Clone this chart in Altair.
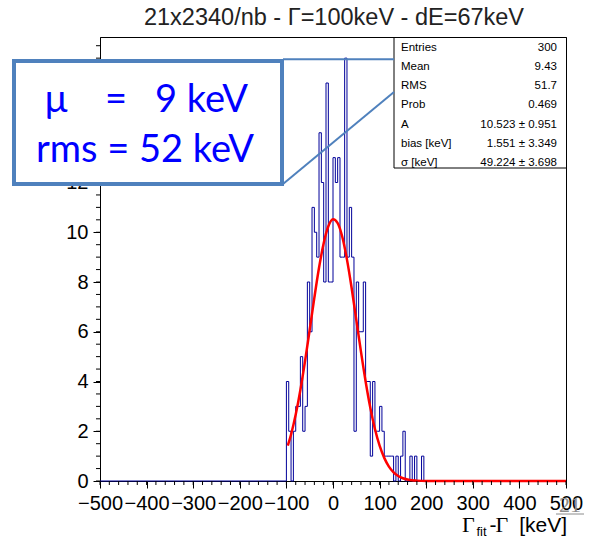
import altair as alt
import pandas as pd

# ---------------- data ----------------
# histogram: 5 keV bins, lower edges from -100 to 195 keV
bin_lo = list(range(-100, 200, 5))
counts = [4, 2, 0, 2, 3, 3, 5, 2, 3, 8,
          6, 11, 10, 9, 14, 12, 8, 16, 8, 8,
          13, 12, 13, 9, 9, 17, 9, 11, 9, 2,
          8, 6, 6, 8, 4, 4, 1, 4, 2, 2,
          3, 2, 1, 1, 1, 1, 0, 1, 0, 1,
          2, 0, 0, 1, 0, 1, 0, 0, 1, 0]

# fitted gaussian (red curve)
fit_x = [-97, -90, -80, -70, -60, -50, -40, -30, -20, -10, 0, 10, 20, 30, 40,
         50, 60, 70, 80, 90, 100, 110, 120, 130, 140, 150, 160, 170, 180, 200, 300, 500]
fit_y = [1.42, 1.87, 2.67, 3.66, 4.82, 6.08, 7.37, 8.57, 9.56, 10.24, 10.52, 10.37,
         9.81, 8.90, 7.76, 6.48, 5.20, 4.00, 2.95, 2.09, 1.42, 0.93, 0.58, 0.35,
         0.20, 0.11, 0.06, 0.03, 0.015, 0.0, 0.0, 0.0]

x_major = [-500, -400, -300, -200, -100, 0, 100, 200, 300, 400, 500]
y_major = [0, 2, 4, 6, 8, 10, 12, 14, 16]

stat_names = ["Entries", "Mean", "RMS", "Prob", "A", "bias [keV]", "σ [keV]"]
stat_values = ["300", "9.43", "51.7", "0.469", "10.523 ± 0.951",
               "1.551 ± 3.349", "49.224 ± 3.698"]

title_text = "21x2340/nb - Γ=100keV - dE=67keV"
callout_mu = ["μ", "=", "9 keV"]
callout_rms = "rms = 52 keV"
slide_no = "21"

# ---------------- chart ----------------
W, H = 466, 444
SANS = "Liberation Sans"
SERIF = "Liberation Serif"

xs = alt.Scale(domain=[-500, 500], nice=False, zero=False)
ys = alt.Scale(domain=[0, 17.85], nice=False, zero=False)

hist_df = pd.DataFrame({"x": [-500] + bin_lo + [200, 500],
                        "y": [0] + counts + [0, 0]})
fit_df = pd.DataFrame({"x": fit_x, "y": fit_y})

x_axis = alt.Axis(values=x_major, tickSize=7, labelFontSize=20, labelFont=SANS,
                  labelColor="black", tickColor="black", domainColor="black",
                  labelPadding=5, labelOverlap=False, labelFlush=False,
                  grid=False, title=None)
y_axis = alt.Axis(values=y_major, tickSize=7, labelFontSize=20, labelFont=SANS,
                  labelColor="black", tickColor="black", domainColor="black",
                  labelPadding=5, labelOverlap=False, labelFlush=False,
                  grid=False, title=None)

X = alt.X("x:Q", scale=xs, axis=x_axis)
Y = alt.Y("y:Q", scale=ys, axis=y_axis)

hist = alt.Chart(hist_df).mark_line(interpolate="step-after", color="#000099",
                                    strokeWidth=1).encode(x=X, y=Y)

fit = alt.Chart(fit_df).mark_line(interpolate="monotone", color="#ff0000",
                                  strokeWidth=2.5).encode(x=X, y=Y)

x_minor_df = pd.DataFrame({"x": list(range(-500, 501, 20))})
y_minor_df = pd.DataFrame({"y": [v / 2 for v in range(0, 36)]})

x_minor = alt.Chart(x_minor_df).mark_rule(color="black", strokeWidth=1).encode(
    x=X, y=alt.value(H), y2=alt.value(H + 4))
y_minor = alt.Chart(y_minor_df).mark_rule(color="black", strokeWidth=1).encode(
    y=Y, x=alt.value(0), x2=alt.value(-4))

one = alt.Data(values=[{"a": 1}])


def txt(text, x, y, size, font=SANS, color="black", align="left",
        baseline="alphabetic"):
    return alt.Chart(one).mark_text(text=text, fontSize=size, font=font,
                                    color=color, align=align,
                                    baseline=baseline).encode(
        x=alt.value(x), y=alt.value(y))


def rect(x1, x2, y1, y2, stroke, sw, fill="white"):
    return alt.Chart(one).mark_rect(fill=fill, stroke=stroke,
                                    strokeWidth=sw).encode(
        x=alt.value(x1), x2=alt.value(x2), y=alt.value(y1), y2=alt.value(y2))


def line(x1, y1, x2, y2, color, sw):
    return alt.Chart(one).mark_rule(color=color, strokeWidth=sw).encode(
        x=alt.value(x1), x2=alt.value(x2), y=alt.value(y1), y2=alt.value(y2))


layers = [hist, fit, x_minor, y_minor]

# stats box
layers.append(rect(294, 466.5, 0.5, 131, "black", 1))
row_y = [13.7, 33, 52.3, 71.4, 90.7, 109.8, 129]
for name, val, yy in zip(stat_names, stat_values, row_y):
    layers.append(txt(name, 301, yy, 11.5))
    layers.append(txt(val, 457, yy, 11.5, align="right"))

# callout connectors and box
BLUE_EDGE = "#4f81bd"
layers.append(line(183, 22.3, 294, 22.3, BLUE_EDGE, 2))
layers.append(line(183, 147, 294, 55, BLUE_EDGE, 2))
layers.append(rect(-86, 182, 24, 147, BLUE_EDGE, 4))
layers.append(txt(callout_mu[0], -44, 74.7, 38, font="Lato", color="#0000ff",
                  align="center"))
layers.append(txt(callout_mu[1], 16, 74.7, 38, font="Lato", color="#0000ff",
                  align="center"))
layers.append(txt(callout_mu[2], 55, 74.7, 38, font="Lato", color="#0000ff"))
layers.append(txt(callout_rms, 45, 124.7, 38, font="Lato", color="#0000ff",
                  align="center"))

# title
layers.append(txt(title_text, 234, -12, 23.5, color="#222222", align="center"))

# x axis title  Γ_fit-Γ [keV]
layers.append(txt("Γ", 362, 494.5, 22, font=SERIF))
layers.append(txt("fit", 376.5, 498.5, 13))
layers.append(txt("-", 389.5, 494.5, 21))
layers.append(txt("Γ", 395.5, 494.5, 22, font=SERIF))
layers.append(txt("[keV]", 467, 494.5, 21, align="right"))

# slide number
layers.append(txt(slide_no, 470, 475, 22, font=SERIF, color="#8c8c8c",
                  align="center"))
layers.append(line(456, 477, 484, 477, "#8c8c8c", 1))

chart = alt.layer(*layers).properties(
    width=W, height=H,
    autosize=alt.AutoSizeParams(type="none"),
    padding={"left": 100, "top": 37, "right": 30, "bottom": 60},
).configure_view(stroke="black", strokeWidth=1)

chart.save("out.html", embed_options={"renderer": "svg", "actions": False})
